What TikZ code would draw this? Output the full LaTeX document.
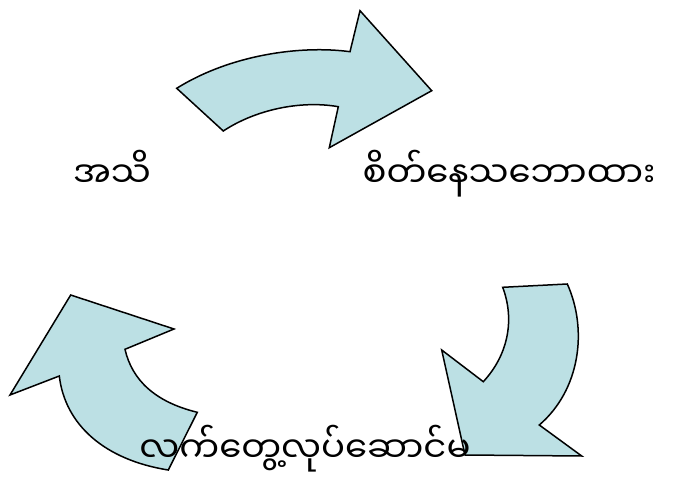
\documentclass[tikz,border=0pt]{standalone}
\usepackage{fontspec}
\newfontfamily\mya[Script=Myanmar]{Noto Sans Myanmar UI}
\definecolor{arrowfill}{RGB}{188,224,228}
\begin{document}
\begin{tikzpicture}[x=1pt,y=-1pt,
  bigarrow/.style={draw=black,line width=1.5pt,fill=arrowfill,line join=miter},
  label/.style={font=\mya\fontsize{35.5}{40}\selectfont,inner sep=0pt,anchor=base}]
\useasboundingbox (0,0) rectangle (675,486);
% top arrow
\draw[bigarrow] (176.7,88.3) .. controls (230,55) and (300,45) .. (350,51.7)
  -- (360,10.7) -- (431.7,90.7) -- (329.3,147.7) -- (338.3,106.7)
  .. controls (300,100) and (255,110) .. (223.3,131) -- cycle;
% right arrow
\draw[bigarrow] (502.7,287.3) -- (567.3,284)
  .. controls (588,330) and (580,390) .. (539.3,425)
  -- (581.7,456) -- (465,455) -- (441.7,350) -- (483.3,381.7)
  .. controls (508,355) and (515,320) .. cycle;
% left arrow
\draw[bigarrow] (168.3,470) -- (197.3,412.3)
  .. controls (155,402) and (132,380) .. (125,349.3)
  -- (174,329) -- (70.7,295) -- (10,395) -- (59.3,376)
  .. controls (65,425) and (105,460) .. cycle;
\node[label] (asi) at (112,188) {အသိ};
\node[label] (seik) at (509,188) {စိတ်နေသဘောထား};
\node[label] (lat) at (305,462) {လက်တွေ့လုပ်ဆောင်မ};
\end{tikzpicture}
\end{document}
